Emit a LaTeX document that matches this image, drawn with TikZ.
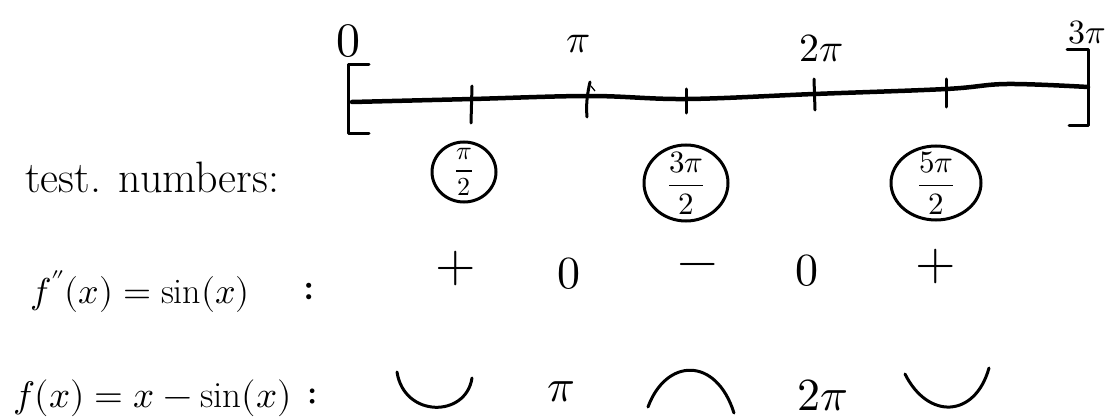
\documentclass[tikz,border=0pt]{standalone}
\usepackage{amsmath}
\usepackage{unicode-math}
\setmathfont{Latin Modern Math}
\begin{document}
\begin{tikzpicture}[x=1pt,y=-1pt,
  ink/.style={line width=3pt,line cap=round,line join=round},
  axisline/.style={line width=4.5pt,line cap=round,line join=round},
  ring/.style={line width=3pt},
  lab/.style={font=\fontsize{40}{44}\selectfont,inner sep=0pt},
  frac/.style={font=\fontsize{31}{34}\selectfont,inner sep=0pt},
  rowlab/.style={inner sep=0pt,anchor=base west},
  sign/.style={font=\fontsize{52}{56}\selectfont,inner sep=0pt},
  val/.style={font=\fontsize{46}{50}\selectfont,inner sep=0pt}]
\useasboundingbox (0,0) rectangle (1114,420);

% number line
\draw[axisline] plot[smooth,tension=0.6] coordinates
  {(352,102) (472,99) (590,96) (686,99) (814,94) (946,89) (1007,84) (1088,87)};
% brackets
\draw[ink] (369,65) -- (348,65) -- (348,133) -- (369,133);
\draw[ink] (1067,50) -- (1088,50) -- (1088,125) -- (1069,125);
% ticks
\draw[ink] (472,86) -- (471,123);
\draw[ink] (590,82) .. controls (587,95) and (586,105) .. (587,117);
\draw[line width=1.2pt] (591,86) -- (595,91);
\draw[ink] (686,89) -- (686,113);
\draw[ink] (814,79) -- (815,110);
\draw[ink] (946,79) -- (946,107);

% labels on the line
\node[lab,font=\fontsize{48}{52}\selectfont] (l0) at (348,41) {$0$};
\node[lab] (lpi) at (578,44) {$\pi$};
\node[lab] (l2pi) at (821,48) {$2\pi$};
\node[lab,font=\fontsize{34}{38}\selectfont] (l3pi) at (1087,33) {$3\pi$};

% test numbers row
\node[rowlab,font=\fontsize{44}{48}\selectfont] (tn) at (25,192) {test. numbers:};
\draw[ring] (464,172) ellipse [x radius=32,y radius=30];
\node[frac,font=\fontsize{26}{30}\selectfont] (q1) at (464,172) {$\dfrac{\pi}{2}$};
\draw[ring] (686,183) ellipse [x radius=42,y radius=38];
\node[frac] (q2) at (686,183) {$\dfrac{3\pi}{2}$};
\draw[ring] (936,183) ellipse [x radius=45,y radius=37];
\node[frac] (q3) at (936,183) {$\dfrac{5\pi}{2}$};

% f'' row
\node[rowlab,font=\fontsize{36}{40}\selectfont] (f2) at (30,303) {$f''(x)=\sin(x)$};
\node[rowlab,font=\fontsize{48}{52}\selectfont] (c2) at (302,303) {$:$};
\node[sign] (s1) at (456,268) {$+$};
\node[val] (s2) at (569,274) {$0$};
\node[sign] (s3) at (698,270) {$-$};
\node[val] (s4) at (807,271) {$0$};
\node[sign] (s5) at (936,266) {$+$};

% f row
\node[rowlab,font=\fontsize{37}{41}\selectfont] (f0) at (13,407) {$f(x) = x - \sin(x)$};
\node[rowlab,font=\fontsize{44}{48}\selectfont] (c0) at (306,407) {$:$};
\draw[ink] (397,372) .. controls (404,418) and (466,418) .. (472,378);
\node[val] (p1) at (561,392) {$\pi$};
\draw[ink] (648,407) .. controls (666,358) and (716,356) .. (734,413);
\node[val] (p2) at (823,395) {$2\pi$};
\draw[ink] (905,374) .. controls (928,420) and (975,418) .. (989,368);
\end{tikzpicture}
\end{document}
